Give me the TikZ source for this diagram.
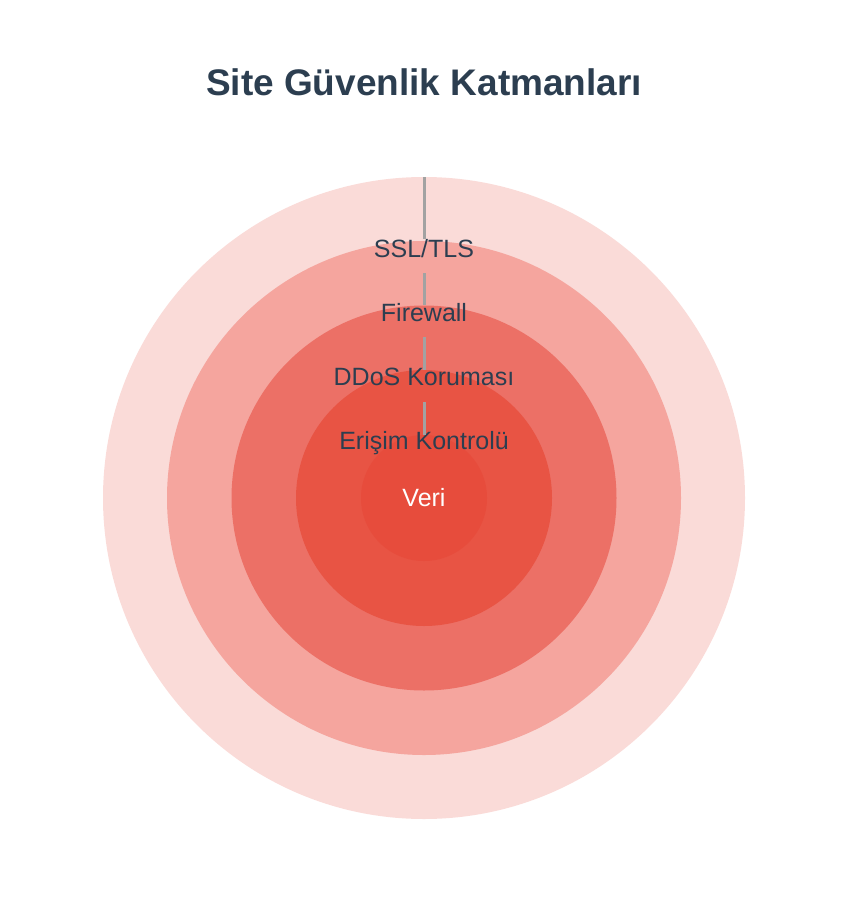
\documentclass[tikz,border=0pt]{standalone}
\usepackage{fontspec}
\setmainfont{Liberation Sans}
\usepackage{xcolor}
\usetikzlibrary{positioning}
\definecolor{ringA}{HTML}{FADBD8}
\definecolor{ringB}{HTML}{F5A59E}
\definecolor{ringC}{HTML}{EC7066}
\definecolor{ringD}{HTML}{E85444}
\definecolor{ringE}{HTML}{E74C3C}
\definecolor{inkdark}{HTML}{2C3E50}
\definecolor{guidegray}{HTML}{A2A2A2}
\tikzstyle{ring} =[circle, inner sep=0pt, draw=none]
\tikzstyle{layer} =[text=inkdark, font=\fontsize{25}{25}\selectfont, inner sep=0pt, anchor=base]
\tikzstyle{guide} =[draw=guidegray, line width=3pt]

\begin{document}
\begin{tikzpicture}[x=1pt,y=-1pt]
		\useasboundingbox (0,0) rectangle (862,902);
		\node (title)[font=\bfseries\fontsize{37}{37}\selectfont, text=inkdark, anchor=base] at (424,95) {Site Güvenlik Katmanları};
		\node (ring1)[ring, fill=ringA, minimum size=642pt] at (424,498) {};
		\node (ring2)[ring, fill=ringB, minimum size=514pt] at (424,498) {};
		\node (ring3)[ring, fill=ringC, minimum size=385pt] at (424,498) {};
		\node (ring4)[ring, fill=ringD, minimum size=256pt] at (424,498) {};
		\node (ring5)[ring, fill=ringE, minimum size=126pt] at (424,498) {};
		\node (ssl)[layer] at (424,257) {SSL/TLS};
		\node (firewall)[layer] at (424,321) {Firewall};
		\node (ddos)[layer] at (424,385) {DDoS Koruması};
		\node (access)[layer] at (424,449) {Erişim Kontrolü};
		\node (data)[layer, text=white] at (424,506) {Veri};
		\coordinate (cut2) at (424,273);
		\coordinate (cut3) at (424,337);
		\coordinate (cut4) at (424,402);
		\draw[guide] (ring1.north) -- (ssl.north);
		\draw[guide] (cut2) -- (ring3.north);
		\draw[guide] (cut3) -- (ring4.north);
		\draw[guide] (cut4) -- (ring5.north);
		\end{tikzpicture}
\end{document}
